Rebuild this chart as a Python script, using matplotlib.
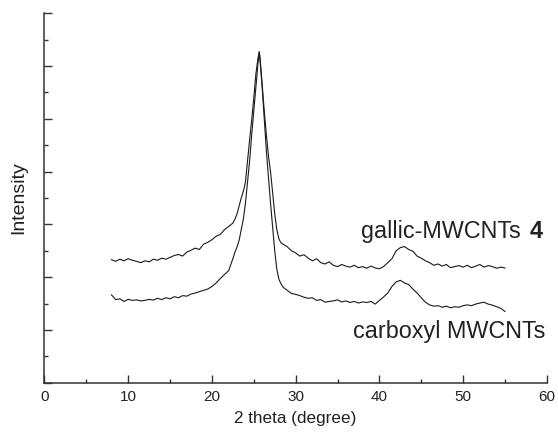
import matplotlib
matplotlib.use("Agg")
import matplotlib.pyplot as plt
import matplotlib.ticker as ticker
import numpy as np

plt.rcParams['font.family'] = ['Liberation Sans', 'DejaVu Sans']

# 2 theta sample positions (deg)
two_theta = [8.0, 8.5, 9.0, 9.5, 10.0, 10.5, 11.0, 11.5, 12.0, 12.5,
             13.0, 13.5, 14.0, 14.5, 15.0, 15.5, 16.0, 16.5, 17.0, 17.5,
             18.0, 18.5, 19.0, 19.5, 20.0, 20.5, 21.0, 21.5, 22.0, 22.5,
             22.75, 23.0, 23.25, 23.5, 23.75, 24.0, 24.25, 24.5, 24.75, 25.0,
             25.25, 25.5, 25.65, 25.75, 26.0, 26.25, 26.5, 26.75, 27.0, 27.25,
             27.5, 27.75, 28.0, 28.25, 28.5, 29.0, 29.5, 30.0, 30.5, 31.0,
             31.5, 32.0, 32.5, 33.0, 33.5, 34.0, 34.5, 35.0, 35.5, 36.0,
             36.5, 37.0, 37.5, 38.0, 38.5, 39.0, 39.5, 40.0, 40.5, 41.0,
             41.5, 42.0, 42.5, 43.0, 43.5, 44.0, 44.5, 45.0, 45.5, 46.0,
             46.5, 47.0, 47.5, 48.0, 48.5, 49.0, 49.5, 50.0, 50.5, 51.0,
             51.5, 52.0, 52.5, 53.0, 53.5, 54.0, 54.5, 55.0]

gallic = [4.66, 4.60, 4.68, 4.62, 4.70, 4.64, 4.60, 4.55, 4.62, 4.58,
          4.68, 4.64, 4.72, 4.68, 4.75, 4.82, 4.86, 4.80, 4.95, 5.02,
          5.10, 5.05, 5.25, 5.32, 5.42, 5.55, 5.62, 5.80, 5.92, 6.05,
          6.20, 6.40, 6.70, 7.00, 7.25, 7.60, 8.40, 9.20, 9.96, 10.80,
          11.70, 12.30, 12.55, 12.30, 11.30, 10.30, 9.40, 8.60, 8.00, 7.20,
          6.40, 5.80, 5.45, 5.30, 5.25, 5.15, 5.00, 4.92, 4.80, 4.85,
          4.72, 4.62, 4.70, 4.55, 4.50, 4.58, 4.45, 4.40, 4.48, 4.42,
          4.38, 4.45, 4.36, 4.40, 4.34, 4.42, 4.35, 4.32, 4.40, 4.55,
          4.70, 5.00, 5.12, 5.16, 5.05, 4.98, 4.80, 4.72, 4.62, 4.55,
          4.45, 4.50, 4.42, 4.48, 4.36, 4.40, 4.44, 4.38, 4.45, 4.36,
          4.42, 4.48, 4.38, 4.44, 4.40, 4.34, 4.38, 4.35]

carboxyl = [3.33, 3.15, 3.18, 3.08, 3.16, 3.12, 3.14, 3.10, 3.12, 3.16,
            3.13, 3.20, 3.15, 3.22, 3.18, 3.26, 3.22, 3.30, 3.28, 3.36,
            3.40, 3.45, 3.50, 3.55, 3.65, 3.78, 3.95, 4.10, 4.25, 4.70,
            4.95, 5.15, 5.40, 5.80, 6.20, 6.80, 7.60, 8.40, 9.40, 10.30,
            11.20, 12.10, 12.50, 12.20, 11.20, 10.00, 8.80, 7.80, 6.80, 5.90,
            5.00, 4.30, 3.92, 3.75, 3.62, 3.50, 3.38, 3.35, 3.30, 3.24,
            3.20, 3.22, 3.12, 3.15, 3.05, 3.08, 3.10, 3.14, 3.06, 3.10,
            3.04, 3.08, 3.02, 3.06, 3.04, 3.08, 2.98, 3.12, 3.25, 3.40,
            3.65, 3.82, 3.88, 3.78, 3.72, 3.55, 3.40, 3.22, 3.05, 2.95,
            2.90, 2.92, 2.86, 2.90, 2.84, 2.88, 2.86, 2.92, 2.95, 2.92,
            2.98, 3.02, 3.05, 2.98, 2.94, 2.88, 2.82, 2.70]

fig = plt.figure(figsize=(5.58, 4.36), dpi=100)
ax = fig.add_axes([0.0797, 0.1222, 0.9003, 0.8473])

ax.plot(two_theta, gallic, color='#1a1a1a', linewidth=0.8)
ax.plot(two_theta, carboxyl, color='#1a1a1a', linewidth=0.8)

ax.set_xlim(0, 60)
ax.set_ylim(0, 14)
ax.xaxis.set_major_locator(ticker.MultipleLocator(10))
ax.xaxis.set_minor_locator(ticker.MultipleLocator(5))
ax.yaxis.set_major_locator(ticker.MultipleLocator(2))
ax.yaxis.set_minor_locator(ticker.MultipleLocator(1))
ax.set_yticklabels([])

for side in ['top', 'right']:
    ax.spines[side].set_visible(False)
for side in ['left', 'bottom']:
    ax.spines[side].set_linewidth(1.1)
    ax.spines[side].set_color('#333333')

ax.tick_params(which='both', direction='in', color='#333333', width=1.0)
ax.tick_params(which='major', length=5.5)
ax.tick_params(which='minor', length=3.2)
ax.tick_params(axis='x', labelsize=11, pad=5, labelcolor='#222222')

ax.set_xlabel('2 theta (degree)', fontsize=12.3, color='#222222', labelpad=5)
ax.set_ylabel('Intensity', fontsize=14, color='#222222', labelpad=9)

ax.text(37.8, 5.49, 'gallic-MWCNTs', fontsize=16.8, color='#222222', va='baseline', ha='left')
ax.text(58.0, 5.49, '4', fontsize=16.8, fontweight='bold', color='#222222', va='baseline', ha='left')
ax.text(36.8, 1.69, 'carboxyl MWCNTs', fontsize=16.8, color='#222222', va='baseline', ha='left')

fig.savefig('out.png', dpi=100)
